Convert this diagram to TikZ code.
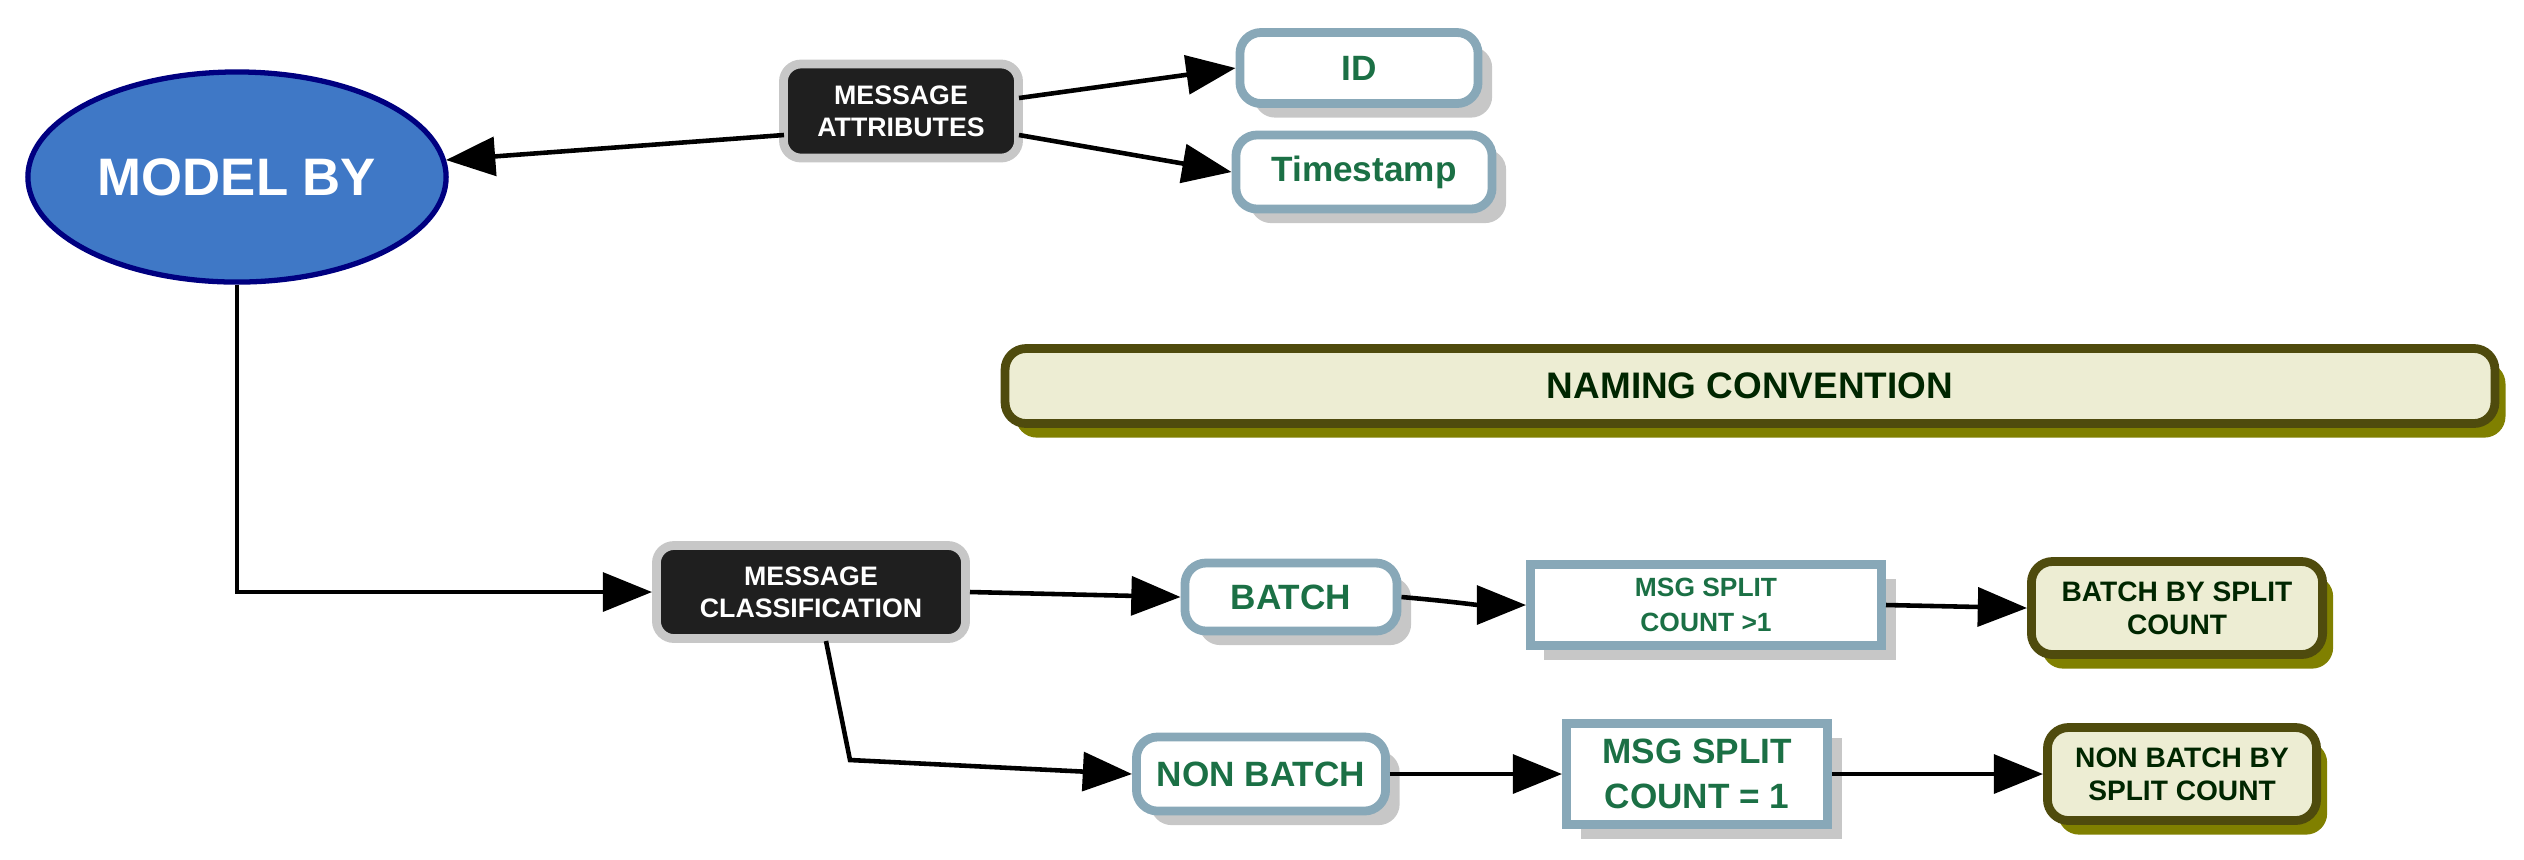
\documentclass[tikz,border=0pt]{standalone}
\usepackage{fontspec}
\setmainfont{Liberation Sans}
\usetikzlibrary{shadows,arrows.meta,shapes.geometric}
\definecolor{tgreen}{HTML}{1B7045}
\definecolor{bluebd}{HTML}{88A8B8}
\definecolor{olivebg}{HTML}{EDEDD3}
\definecolor{olivebd}{HTML}{4F4B0D}
\definecolor{oliveshadow}{HTML}{808000}
\definecolor{ellblue}{HTML}{3F78C6}
\begin{document}
\begin{tikzpicture}[x=0.01cm,y=-0.01cm,
  base/.style={align=center,font=\bfseries,inner sep=0pt},
  dark/.style={base,rectangle,rounded corners=5,fill=black!88,draw=black!22,line width=2.5pt,text=white,font=\bfseries\fontsize{7.6}{9}\selectfont},
  white/.style={base,rectangle,rounded corners=6,fill=white,draw=bluebd,line width=2.5pt,text=tgreen,font=\bfseries\fontsize{10}{12}\selectfont,
    drop shadow={shadow xshift=4pt,shadow yshift=-4pt,fill=black!22,opacity=1}},
  sq/.style={white,rounded corners=0,font=\bfseries\fontsize{7.5}{10}\selectfont},
  olive/.style={base,rectangle,rounded corners=6,fill=olivebg,draw=olivebd,line width=2.5pt,text=black!85!green,font=\bfseries\fontsize{8}{9.5}\selectfont,
    drop shadow={shadow xshift=3pt,shadow yshift=-4pt,fill=oliveshadow,opacity=1}},
  arr/.style={-{Triangle[length=14pt,width=11pt]},line width=1.3pt,black}]
\useasboundingbox (0,0) rectangle (2524,859);
\node[ellipse,fill=ellblue,draw=blue!50!black,line width=1.5pt,minimum width=4.18cm,minimum height=2.1cm,text=white,font=\bfseries\fontsize{15}{18}\selectfont,inner sep=0pt] (mb) at (237,177) {MODEL BY};
\node[dark,minimum width=2.35cm,minimum height=0.94cm] (ma) at (901,111) {MESSAGE\\ATTRIBUTES};
\node[white,minimum width=2.38cm,minimum height=0.71cm] (id) at (1359,68) {ID};
\node[white,minimum width=2.56cm,minimum height=0.74cm] (ts) at (1364,172) {Timestamp};
\node[olive,minimum width=14.89cm,minimum height=0.75cm,font=\bfseries\fontsize{10.5}{12}\selectfont] (nc) at (1750,386) {NAMING CONVENTION};
\node[dark,minimum width=3.09cm,minimum height=0.93cm] (mc) at (811,592) {MESSAGE\\CLASSIFICATION};
\node[white,minimum width=2.12cm,minimum height=0.68cm] (b) at (1291,597) {BATCH};
\node[sq,minimum width=3.51cm,minimum height=0.81cm] (s1) at (1706,605) {MSG SPLIT\\COUNT >1};
\node[olive,minimum width=2.91cm,minimum height=0.93cm] (bs) at (2177,608) {BATCH BY SPLIT\\COUNT};
\node[white,minimum width=2.49cm,minimum height=0.74cm] (nb) at (1261,774) {NON BATCH};
\node[sq,minimum width=2.61cm,minimum height=1.01cm,font=\bfseries\fontsize{10}{13}\selectfont] (s2) at (1697,774) {MSG SPLIT\\COUNT = 1};
\node[olive,minimum width=2.69cm,minimum height=0.93cm] (ns) at (2182,774) {NON BATCH BY\\SPLIT COUNT};
\coordinate (c1) at (237,592);
\coordinate (c2) at (850,760);
\coordinate (ma1) at (784,135);
\coordinate (mb1) at (446,160);
\coordinate (ma2) at (1019,98);
\coordinate (ma3) at (1019,135);
\coordinate (mc1) at (826,641);
\draw[arr] (ma1) -- (mb1);
\draw[arr] (ma2) -- (id.west);
\draw[arr] (ma3) -- (ts.west);
\draw[arr] (mb.south) -- (c1) -- (mc.west);
\draw[arr] (mc.east) -- (b.west);
\draw[arr] (b.east) to[out=-5,in=180] (s1.west);
\draw[arr] (s1.east) -- (bs.west);
\draw[arr] (mc1) -- (c2) -- (nb.west);
\draw[arr] (nb.east) -- (s2.west);
\draw[arr] (s2.east) -- (ns.west);
\end{tikzpicture}
\end{document}
